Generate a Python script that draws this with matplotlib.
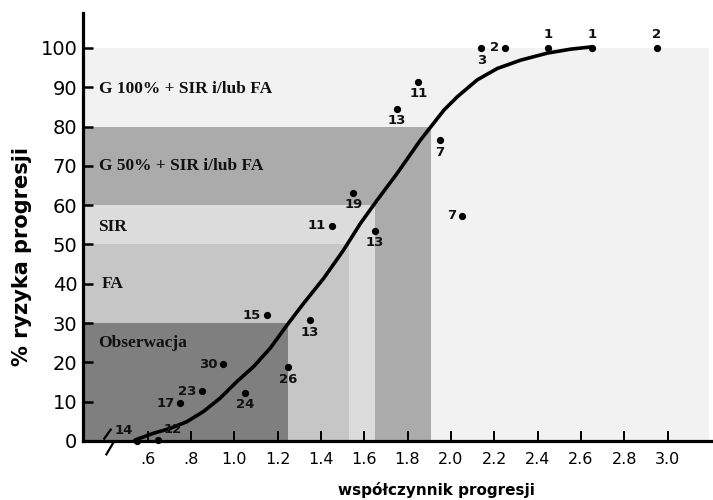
import matplotlib.pyplot as plt

# progression-risk chart (reconstructed)
curve_x = [0.542, 0.627, 0.704, 0.781, 0.858, 0.935, 1.012, 1.089, 1.166, 1.244, 1.32, 1.413, 1.505,
           1.583, 1.66, 1.752, 1.86, 1.968, 2.03, 2.122, 2.215, 2.322, 2.446, 2.553, 2.654]
curve_y = [0.25, 1.96, 3.2, 4.9, 7.5, 10.9, 15.1, 18.9, 23.6, 29.5, 35.0, 41.4, 48.6,
           55.4, 61.3, 68.1, 76.6, 84.2, 87.6, 91.9, 94.8, 96.9, 98.7, 99.7, 100.3]

pts_x = [0.55, 0.65, 0.75, 0.85, 0.95, 1.05, 1.15, 1.25, 1.35, 1.45, 1.55, 1.65, 1.75, 1.85, 1.95, 2.05, 2.14, 2.25, 2.45, 2.65, 2.95]
pts_y = [0, 0.3, 9.6, 12.7, 19.5, 12.3, 32, 18.8, 30.8, 54.8, 63.2, 53.5, 84.5, 91.4, 76.6, 57.3, 100, 100, 100, 100, 100]
pts_n = ['14', '12', '17', '23', '30', '24', '15', '26', '13', '11', '19', '13', '13', '11', '7', '7', '3', '2', '1', '1', '2']

zones = ['G 100% + SIR i/lub FA', 'G 50% + SIR i/lub FA', 'SIR', 'FA', 'Obserwacja']
zone_top = [100, 80, 60, 50, 30]
zone_right = [3.19, 1.91, 1.65, 1.53, 1.25]
zone_text_y = [89.5, 70, 54.5, 40, 25]

xticks = [0.6, 0.8, 1.0, 1.2, 1.4, 1.6, 1.8, 2.0, 2.2, 2.4, 2.6, 2.8, 3.0]
xticklabels = ['.6', '.8', '1.0', '1.2', '1.4', '1.6', '1.8', '2.0', '2.2', '2.4', '2.6', '2.8', '3.0']

zone_colors = ['#f2f2f2', '#ababab', '#dcdcdc', '#c6c6c6', '#7f7f7f']
zone_text_x = [0.375, 0.375, 0.372, 0.39, 0.372]
# where each number sits relative to its dot: a=above, b=below, l=left, al/ar=above left/right
label_side = ['al', 'ar', 'l', 'l', 'l', 'b', 'l', 'b', 'b', 'l', 'b', 'b', 'b', 'b', 'b', 'l', 'b', 'l', 'a', 'a', 'a']

fig = plt.figure(figsize=(7.13, 5.0), dpi=100)
ax = fig.add_axes([83 / 713, 59 / 500, 630 / 713, 428 / 500])
x0 = 0.302
ax.set_xlim(x0, 3.21)
ax.set_ylim(0, 108.9)

for top, right, col in zip(zone_top, zone_right, zone_colors):
    ax.fill_between([x0, right], 0, top, color=col, lw=0, zorder=0)

for txt, tx, ty in zip(zones, zone_text_x, zone_text_y):
    ax.text(tx, ty, txt, family='Liberation Serif', fontweight='bold', fontsize=12.5,
            va='center', ha='left', color='#111111', zorder=3)

ax.plot(curve_x, curve_y, color='black', lw=2.6, solid_joinstyle='round', solid_capstyle='round', zorder=4)
ax.plot(pts_x, pts_y, 'o', color='black', ms=4.2, zorder=5, clip_on=False)

offs = {'a': ((0, 5), 'center', 'bottom'), 'b': ((0, -4), 'center', 'top'),
        'l': ((-4, 0), 'right', 'center'), 'al': ((-3, 3), 'right', 'bottom'),
        'ar': ((4, 3), 'left', 'bottom')}
for px, py, n, side in zip(pts_x, pts_y, pts_n, label_side):
    off, ha, va = offs[side]
    ax.annotate(n, (px, py), xytext=off, textcoords='offset points', ha=ha, va=va,
                fontsize=9.5, fontweight='bold', color='#111111', zorder=6)

ax.spines['top'].set_visible(False)
ax.spines['right'].set_visible(False)
ax.spines['left'].set_linewidth(2.3)
ax.spines['bottom'].set_linewidth(2.3)

ax.set_yticks(range(0, 101, 10))
ax.set_xticks(xticks)
ax.set_xticklabels(xticklabels)
ax.tick_params(axis='y', direction='in', length=7, width=1.8, labelsize=14, pad=4)
ax.tick_params(axis='x', direction='in', length=7, width=1.4, labelsize=11.5, pad=8)

# axis break marks
ax.plot([0.40, 0.43], [0.6, 2.9], color='black', lw=1.6, clip_on=False, zorder=6)
ax.plot([0.41, 0.44], [-3.4, -0.6], color='black', lw=1.6, clip_on=False, zorder=6)

fig.text(22 / 713, 0.486, '% ryzyka progresji', rotation=90, fontsize=15, fontweight='bold',
         ha='center', va='center')
fig.text(436 / 713, 0.02, 'współczynnik progresji', fontsize=11, fontweight='bold',
         ha='center', va='center')

fig.savefig('out.png', dpi=100)
